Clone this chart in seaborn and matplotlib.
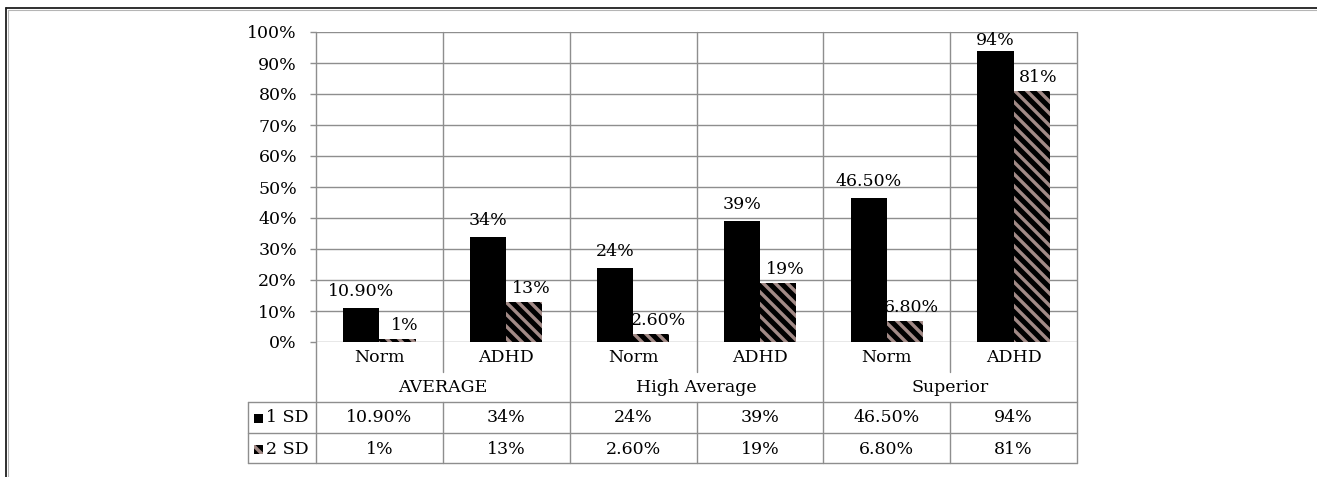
import matplotlib
matplotlib.use("Agg")
import matplotlib.pyplot as plt
import matplotlib.transforms as mtransforms
from matplotlib.patches import Rectangle
from matplotlib.lines import Line2D
import seaborn as sns
import pandas as pd

# ---- data -------------------------------------------------------------
groups = ["AVERAGE", "High Average", "Superior"]
subgroups = ["Norm", "ADHD"]
series = ["1 SD", "2 SD"]
sd1_values = [0.109, 0.34, 0.24, 0.39, 0.465, 0.94]
sd2_values = [0.01, 0.13, 0.026, 0.19, 0.068, 0.81]
y_ticks = [0.0, 0.1, 0.2, 0.3, 0.4, 0.5, 0.6, 0.7, 0.8, 0.9, 1.0]

# ---- style ------------------------------------------------------------
# 72 dpi: one point equals one pixel, and one hatch cell is 72 px wide
W, H, DPI = 1317, 477, 72
GRID = "#8e8e8e"
STRIPE = "#a28a86"
FS = 17.4
HATCH = "\\\\"

sns.set_theme(style="white")
plt.rcParams["font.family"] = ["DejaVu Serif"]
plt.rcParams["hatch.linewidth"] = 3.4
plt.rcParams["text.color"] = "black"
plt.rcParams["xtick.color"] = "black"
plt.rcParams["ytick.color"] = "black"

keys = [f"{g}|{s}" for g in groups for s in subgroups]
df = pd.DataFrame({
    "key": keys * 2,
    "value": sd1_values + sd2_values,
    "series": [series[0]] * 6 + [series[1]] * 6,
})


def fmt(v):
    p = round(v * 100, 6)
    return f"{p:.0f}%" if float(p).is_integer() else f"{p:.2f}%"


fig = plt.figure(figsize=(W / DPI, H / DPI), dpi=DPI)
fig.patch.set_facecolor("white")


def fx(px):
    return px / W


def fy(py):
    return 1 - py / H


ax_l, ax_r, ax_t, ax_b = 316, 1077, 32, 342
ax = fig.add_axes([fx(ax_l), fy(ax_b), fx(ax_r - ax_l), (ax_b - ax_t) / H])

sns.barplot(data=df, x="key", y="value", hue="series", order=keys,
            hue_order=series, palette=["black", "black"], width=0.57,
            gap=0, saturation=1, legend=False, linewidth=0, ax=ax)

for bar in ax.containers[1]:
    bar.set_hatch(HATCH)
    bar.set_edgecolor(STRIPE)
    bar.set_linewidth(0)

ax.set_xlim(-0.5, 5.5)
ax.set_ylim(0, 1)
ax.set_yticks(y_ticks)
ax.set_yticklabels([f"{int(round(t * 100))}%" for t in y_ticks], fontsize=FS)
ax.set_xticks(range(6))
ax.set_xticklabels(subgroups * 3, fontsize=FS)
ax.set_xlabel("")
ax.set_ylabel("")
ax.tick_params(axis="y", length=6, width=1.4, color=GRID, pad=13,
               direction="out", left=True)
ax.tick_params(axis="x", length=0, pad=7)
ax.yaxis.grid(True, color=GRID, linewidth=1.4)
ax.set_axisbelow(True)
for sp in ax.spines.values():
    sp.set_visible(False)

# value labels above bars
labels = []
for container, vals, dx, dy in [(ax.containers[0], sd1_values, 0, 8),
                                (ax.containers[1], sd2_values, 7, 5)]:
    for bar, v in zip(container, vals):
        t = ax.annotate(fmt(v), (bar.get_x() + bar.get_width() / 2, v),
                        xytext=(dx, dy), textcoords="offset points",
                        ha="center", va="bottom", fontsize=FS, annotation_clip=False)
        labels.append(t)

fig.canvas.draw()
renderer = fig.canvas.get_renderer()
ax_top = ax.get_window_extent(renderer).y1
for t in labels:
    bb = t.get_window_extent(renderer)
    if bb.y1 > ax_top:
        dxp, dyp = t.xyann
        t.xyann = (dxp, dyp - (bb.y1 - ax_top) * 72 / DPI)

# ---- data table under the plot ---------------------------------------
bt = mtransforms.blended_transform_factory(ax.transData, fig.transFigure)


def fline(xs, ys, color=GRID, lw=1.4, transform=None):
    fig.add_artist(Line2D(xs, ys, transform=transform or fig.transFigure,
                          color=color, linewidth=lw))


# vertical separators
for xb in [-0.5, 1.5, 3.5, 5.5]:
    fline([xb, xb], [fy(ax_t), fy(463)], transform=bt)
for xb in [0.5, 2.5, 4.5]:
    fline([xb, xb], [fy(ax_t), fy(372)], transform=bt)
    fline([xb, xb], [fy(402), fy(463)], transform=bt)
# horizontal rules
for yy in [402, 433, 463]:
    fline([fx(248), fx(ax_r)], [fy(yy), fy(yy)])
fline([fx(248), fx(248)], [fy(402), fy(463)])

# group labels
for gi, g in enumerate(groups):
    fig.text(gi * 2 + 0.5, fy(387), g, transform=bt, ha="center", va="center",
             fontsize=FS)

# table values
for row_y, vals in [(418, sd1_values), (449, sd2_values)]:
    for i, v in enumerate(vals):
        fig.text(i, fy(row_y), fmt(v), transform=bt, ha="center", va="center",
                 fontsize=FS)

# legend keys in the first column
for row_y, name, hatched in [(418, series[0], False), (449, series[1], True)]:
    sq = Rectangle((fx(254), fy(row_y + 4.5)), fx(9), 9 / H,
                   transform=fig.transFigure, facecolor="black",
                   edgecolor=STRIPE if hatched else "black", linewidth=0,
                   hatch=HATCH if hatched else None)
    fig.add_artist(sq)
    fig.text(fx(266), fy(row_y), name, ha="left", va="center", fontsize=FS)

# outer frame
fline([fx(6), 1], [fy(8), fy(8)], color="#1e1e1e", lw=1.8)
fline([fx(7.5), 1], [fy(9.8), fy(9.8)], color="#b5b5b5", lw=1.1)
fline([fx(6), fx(6)], [fy(8), 0], color="#1e1e1e", lw=1.8)
fline([fx(7.8), fx(7.8)], [fy(9.8), 0], color="#b5b5b5", lw=1.1)

fig.savefig("out.png", dpi=DPI, facecolor="white")
